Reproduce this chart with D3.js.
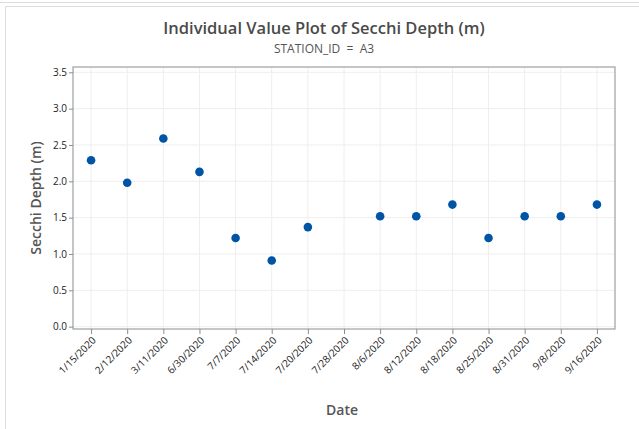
<!DOCTYPE html>
<html>
<head>
<meta charset="utf-8">
<script src="https://cdn.jsdelivr.net/npm/d3@7"></script>
<style>
  html, body { margin: 0; padding: 0; background: #fff; }
  svg { display: block; }
</style>
</head>
<body>
<svg id="chart" width="639" height="429"></svg>
<script>
// Sampling dates at station A3
const dates = ["1/15/2020", "2/12/2020", "3/11/2020", "6/30/2020", "7/7/2020",
               "7/14/2020", "7/20/2020", "7/28/2020", "8/6/2020", "8/12/2020",
               "8/18/2020", "8/25/2020", "8/31/2020", "9/8/2020", "9/16/2020"];
// Secchi depth in metres (7/28 has no reading)
const depths = [2.29, 1.98, 2.59, 2.13, 1.22, 0.91, 1.37, null, 1.52, 1.52,
                1.68, 1.22, 1.52, 1.52, 1.68];
const yTicks = [0.0, 0.5, 1.0, 1.5, 2.0, 2.5, 3.0, 3.5];

const svg = d3.select("#chart");
const W = 639, H = 429;
const plot = { left: 73, right: 615, top: 67, bottom: 329 };
const font = "'Open Sans', 'Noto Sans', sans-serif";

// Outer panel borders
svg.append("line").attr("x1", 0).attr("x2", W).attr("y1", 2.5).attr("y2", 2.5)
  .attr("stroke", "#dcdcdc").attr("stroke-width", 1);
svg.append("path").attr("d", `M5.5,${H} V6.5 H${W}`)
  .attr("fill", "none").attr("stroke", "#dcdcdc").attr("stroke-width", 1);

const x = d3.scalePoint().domain(dates).range([plot.left, plot.right]).padding(0.5);
const y = d3.scaleLinear().domain([-0.032, 3.573]).range([plot.bottom, plot.top]);

// Gridlines
const grid = svg.append("g");
grid.selectAll("line.v").data(dates).join("line")
  .attr("x1", d => x(d)).attr("x2", d => x(d))
  .attr("y1", plot.top).attr("y2", plot.bottom)
  .attr("stroke", "#eeeeee").attr("stroke-width", 1);
grid.selectAll("line.h").data(yTicks).join("line")
  .attr("x1", plot.left).attr("x2", plot.right)
  .attr("y1", d => y(d)).attr("y2", d => y(d))
  .attr("stroke", "#eeeeee").attr("stroke-width", 1);

// Plot frame
svg.append("rect")
  .attr("x", plot.left).attr("y", plot.top)
  .attr("width", plot.right - plot.left).attr("height", plot.bottom - plot.top)
  .attr("fill", "none").attr("stroke", "#8c8c8c").attr("stroke-width", 1);

// Y axis
const yAxis = svg.append("g")
  .attr("transform", `translate(${plot.left},0)`)
  .call(d3.axisLeft(y).tickValues(yTicks).tickFormat(d3.format(".1f")).tickSize(4).tickPadding(2));
yAxis.select(".domain").remove();
yAxis.selectAll(".tick line").attr("stroke", "#8c8c8c");
yAxis.selectAll(".tick text")
  .attr("font-family", font).attr("font-size", 10).attr("font-weight", 500).attr("fill", "#222");

// X axis
const xAxis = svg.append("g")
  .attr("transform", `translate(0,${plot.bottom})`)
  .call(d3.axisBottom(x).tickSize(5).tickPadding(2));
xAxis.select(".domain").remove();
xAxis.selectAll(".tick line").attr("stroke", "#8c8c8c");
xAxis.selectAll(".tick text")
  .attr("font-family", font).attr("font-size", 10).attr("font-weight", 500).attr("fill", "#222")
  .attr("text-anchor", "end")
  .attr("dy", null).attr("y", null)
  .attr("transform", "translate(5,12) rotate(-45)");

// Data points
svg.append("g").selectAll("circle")
  .data(dates.map((d, i) => ({ date: d, value: depths[i] })).filter(p => p.value != null))
  .join("circle")
  .attr("cx", d => x(d.date))
  .attr("cy", d => y(d.value))
  .attr("r", 4.3)
  .attr("fill", "#0054a6");

// Titles
svg.append("text")
  .attr("x", 324).attr("y", 34)
  .attr("text-anchor", "middle")
  .attr("font-family", font).attr("font-size", 16.5).attr("font-weight", 600)
  .attr("fill", "#4a4a4a")
  .text("Individual Value Plot of Secchi Depth (m)");
svg.append("text")
  .attr("x", 324).attr("y", 53)
  .attr("text-anchor", "middle")
  .attr("font-family", font).attr("font-size", 12)
  .attr("fill", "#555")
  .attr("xml:space", "preserve")
  .text("STATION_ID  =  A3");

svg.append("text")
  .attr("transform", `translate(41,${(plot.top + plot.bottom) / 2}) rotate(-90)`)
  .attr("text-anchor", "middle")
  .attr("font-family", font).attr("font-size", 14).attr("font-weight", 600)
  .attr("fill", "#555")
  .text("Secchi Depth (m)");

svg.append("text")
  .attr("x", (plot.left + plot.right) / 2 - 2).attr("y", 415)
  .attr("text-anchor", "middle")
  .attr("font-family", font).attr("font-size", 14).attr("font-weight", 600)
  .attr("fill", "#555")
  .text("Date");
</script>
</body>
</html>
